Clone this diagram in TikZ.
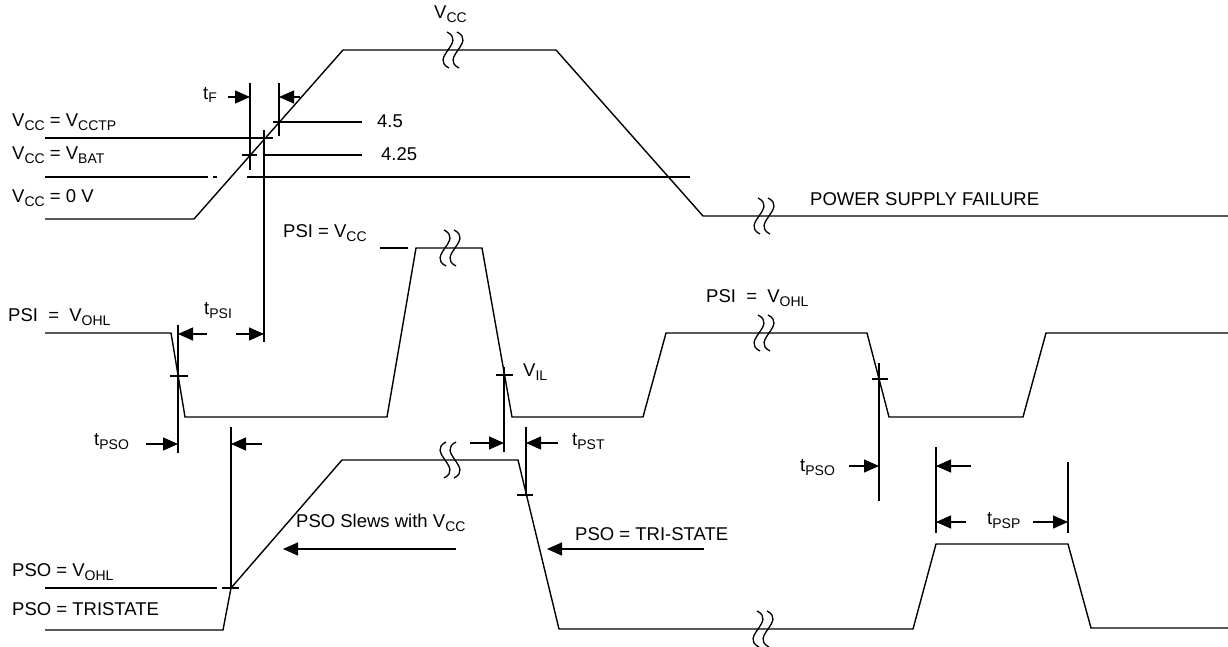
\documentclass[tikz,border=0pt]{standalone}
\usepackage{fontspec}
\setmainfont{Liberation Sans}
\usetikzlibrary{arrows.meta}
\newcommand\lo[1]{\raisebox{-0.4ex}{\fontsize{14}{14}\selectfont #1}}
\begin{document}
\begin{tikzpicture}[x=1pt,y=-1pt,
  wave/.style={line width=1.4pt,line join=miter},
  thin/.style={line width=1.2pt},
  arr/.style={line width=1.3pt,-{Triangle[length=15pt,width=13pt]}},
  lbl/.style={anchor=west,inner sep=0pt,font=\fontsize{18.5}{21}\selectfont},
  brkA/.pic={\foreach \d in {-5,5}{\draw[line width=1.3pt] (\d-1,-18) .. controls (\d+19,-8) and (\d-19,8) .. (\d+1,18);}},
  brkB/.pic={\foreach \d in {-5,5}{\draw[line width=1.3pt] (\d+1,-18) .. controls (\d-19,-8) and (\d+19,8) .. (\d-1,18);}}]
\useasboundingbox (0,0) rectangle (1228,647);
% ---------- VCC waveform ----------
\draw[wave] (45,219) -- (194,219) -- (343,50) -- (556,50) -- (703,216) -- (1228,216);
\pic at (453,50) {brkA};
\pic at (764,216) {brkA};
% reference levels
\draw[thin] (45,138) -- (273,138);
\draw[thin] (273,122) -- (362,122);
\draw[thin] (263,155) -- (362,155);
\draw[thin] (242,155) -- (257,155);
\draw[thin] (45,177) -- (208,177);
\draw[thin] (213,177) -- (217,177);
\draw[thin] (247,177) -- (690,177);
% verticals
\draw[thin] (250,83) -- (250,170);
\draw[thin] (279,83) -- (279,136);
\draw[thin] (264,130) -- (264,342);
% tF arrows
\coordinate (tfl) at (250,97);
\coordinate (tfr) at (279,97);
\coordinate (tfla) at (228,97);
\coordinate (tfra) at (300,97);
\draw[arr] (tfla) -- (tfl);
\draw[arr] (tfra) -- (tfr);
\node[lbl] (tF) at (203,95) {t\lo{F}};
% labels
\node[lbl] (l1) at (12,122) {V\lo{CC} = V\lo{CCTP}};
\node[lbl] (l2) at (12,155) {V\lo{CC} = V\lo{BAT}};
\node[lbl] (l3) at (12,198) {V\lo{CC} = 0 V};
\node[lbl] (l45) at (377,121) {4.5};
\node[lbl] (l425) at (381,154) {4.25};
\node[lbl] (lvcc) at (434,14) {V\lo{CC}};
\node[lbl] (lpsf) at (810,199) {POWER SUPPLY FAILURE};
% ---------- PSI waveform ----------
\draw[wave] (45,333) -- (171,333) -- (185,417) -- (387,417) -- (416,248) -- (482,248) -- (512,417) -- (643,417) -- (666,333) -- (867,333) -- (889,417) -- (1023,417) -- (1046,333) -- (1228,333);
\draw[thin] (380,248) -- (408,248);
\pic at (450,248) {brkA};
\pic at (764,333) {brkA};
\draw[thin] (170,376) -- (188,376);
\draw[thin] (496,375) -- (513,375);
\draw[thin] (872,379) -- (888,379);
\node[lbl] (psivcc) at (283,233) {PSI = V\lo{CC}};
\node[lbl] (psiohl1) at (8,317) {PSI \ = \ V\lo{OHL}};
\node[lbl] (psiohl2) at (706,298) {PSI \ = \ V\lo{OHL}};
\node[lbl] (vil) at (523,372) {V\lo{IL}};
% verticals
\draw[thin] (178,325) -- (178,453);
\draw[thin] (231,427) -- (231,588);
\draw[thin] (504,367) -- (504,452);
\draw[thin] (526,427) -- (526,495);
\draw[thin] (879,363) -- (879,501);
\draw[thin] (936,447) -- (936,533);
\draw[thin] (1068,462) -- (1068,533);
% tPSI
\draw[arr] (207,334) -- (178,334);
\draw[arr] (236,334) -- (264,334);
\node[lbl] (tpsi) at (204,311) {t\lo{PSI}};
% tPSO left
\draw[arr] (146,444) -- (178,444);
\draw[arr] (262,444) -- (231,444);
\node[lbl] (tpso1) at (94,442) {t\lo{PSO}};
% tPST
\draw[arr] (470,443) -- (504,443);
\draw[arr] (558,443) -- (526,443);
\node[lbl] (tpst) at (572,442) {t\lo{PST}};
% tPSO right
\draw[arr] (849,466) -- (879,466);
\draw[arr] (971,466) -- (936,466);
\node[lbl] (tpso2) at (800,468) {t\lo{PSO}};
% tPSP
\draw[arr] (966,522) -- (936,522);
\draw[arr] (1033,522) -- (1068,522);
\node[lbl] (tpsp) at (987,521) {t\lo{PSP}};
% ---------- PSO waveform ----------
\draw[wave] (45,630) -- (223,630) -- (231,588) -- (342,460) -- (518,460) -- (559,629) -- (913,629) -- (936,544) -- (1068,544) -- (1091,628) -- (1228,628);
\draw[thin] (45,588) -- (217,588);
\draw[thin] (222,588) -- (239,588);
\draw[thin] (517,495) -- (533,495);
\pic at (450,460) {brkB};
\pic at (763,629) {brkA};
\node[lbl] (pso1) at (12,572) {PSO = V\lo{OHL}};
\node[lbl] (pso2) at (12,609) {PSO = TRISTATE};
\node[lbl] (slew) at (296,523) {PSO Slews with V\lo{CC}};
\draw[arr] (456,549) -- (283,549);
\node[lbl] (tri) at (575,534) {PSO = TRI-STATE};
\draw[arr] (704,549) -- (547,549);
\end{tikzpicture}
\end{document}
